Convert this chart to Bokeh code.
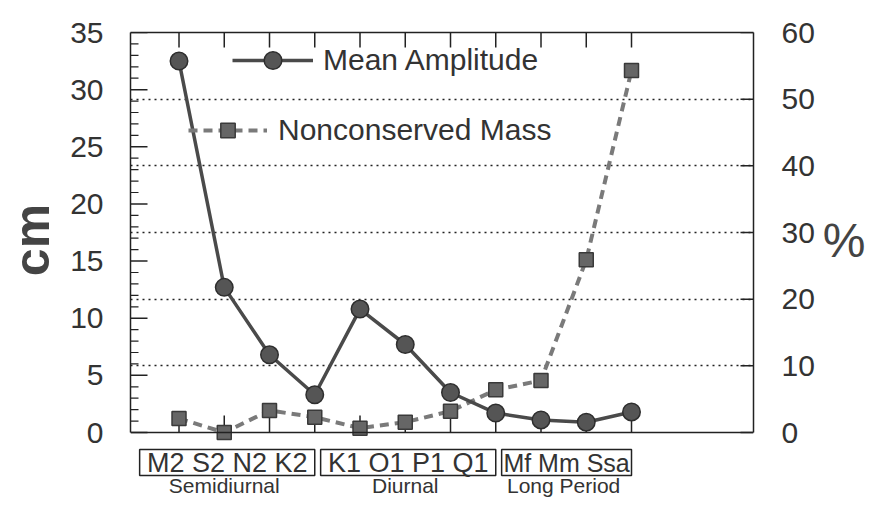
from bokeh.plotting import figure
from bokeh.layouts import column
from bokeh.models import (Range1d, LinearAxis, FixedTicker, Grid, Legend, LegendItem,
                          Span, ColumnDataSource)
from bokeh.core.properties import value
from bokeh.embed import file_html
from bokeh.resources import INLINE

# ---------------- data ----------------
categories = ["M2", "S2", "N2", "K2", "K1", "O1", "P1", "Q1", "Mf", "Mm", "Ssa"]
mean_amplitude_cm = [32.5, 12.7, 6.8, 3.3, 10.8, 7.7, 3.5, 1.7, 1.1, 0.9, 1.8]
nonconserved_mass_pct = [2.1, 0.0, 3.3, 2.3, 0.65, 1.55, 3.2, 6.4, 7.8, 25.9, 54.3]
group_names = ["Semidiurnal", "Diurnal", "Long Period"]
group_sizes = [4, 4, 3]
left_ticks = [0, 5, 10, 15, 20, 25, 30, 35]
left_minor_ticks = list(range(0, 36))
right_ticks = [0, 10, 20, 30, 40, 50, 60]
grid_ticks = [10, 20, 30, 40, 50]

# ---------------- style ----------------
FONT = "Liberation Sans"
INK = "#333333"
FRAME = "#222222"

X0, X1 = -1.072, 12.696
CM_TOP, PCT_TOP = 35, 60
BOX_H = 400                       # pixel height of the 0..35 cm box
BELOW = 15                        # pixels of frame kept below the zero line
PX_X = 623 / (X1 - X0)
PX_CM = BOX_H / CM_TOP
PX_PCT = BOX_H / PCT_TOP

x = list(range(len(categories)))
src = ColumnDataSource(dict(x=x, amp=mean_amplitude_cm, mass=nonconserved_mass_pct, cat=categories))
xr = Range1d(X0, X1)

# ================= main chart =================
p = figure(width=870, height=32 + BOX_H + BELOW, output_backend="svg", toolbar_location=None,
           x_range=xr, y_range=Range1d(-BELOW / PX_CM, CM_TOP),
           x_axis_location=None, y_axis_location=None,
           min_border_left=130, min_border_right=117, min_border_top=32, min_border_bottom=0,
           background_fill_color="white", border_fill_color="white")
p.extra_y_ranges = {"pct": Range1d(-BELOW / PX_PCT, PCT_TOP)}
p.outline_line_color = None
p.xgrid.visible = False
p.ygrid.visible = False

ya = LinearAxis(ticker=FixedTicker(ticks=left_ticks, minor_ticks=[]), bounds=(0, CM_TOP),
                major_tick_in=0, major_tick_out=0, minor_tick_in=0, minor_tick_out=0,
                axis_line_color=FRAME, axis_line_width=1.5,
                major_label_standoff=27, major_label_text_font=FONT,
                major_label_text_font_size="30px", major_label_text_color=INK,
                axis_label="cm", axis_label_standoff=7, axis_label_text_font=FONT,
                axis_label_text_font_style="bold", axis_label_text_font_size="50px",
                axis_label_text_color="#444444")
p.add_layout(ya, "left")

ra = LinearAxis(y_range_name="pct", ticker=FixedTicker(ticks=right_ticks, minor_ticks=[]),
                bounds=(0, PCT_TOP), major_tick_in=0, major_tick_out=0, minor_tick_in=0,
                minor_tick_out=0, axis_line_color=FRAME, axis_line_width=1.5,
                major_label_standoff=28, major_label_text_font=FONT,
                major_label_text_font_size="30px", major_label_text_color=INK,
                axis_label="%", axis_label_orientation="horizontal", axis_label_standoff=5,
                axis_label_text_font=FONT, axis_label_text_font_style="normal",
                axis_label_text_font_size="48px", axis_label_text_color="#444444")
p.add_layout(ra, "right")

# top edge of the box
ta = LinearAxis(ticker=FixedTicker(ticks=[]), major_tick_in=0, major_tick_out=0,
                minor_tick_in=0, minor_tick_out=0, axis_line_color=FRAME, axis_line_width=1.5)
p.add_layout(ta, "above")
# bottom edge of the box (zero line)
p.add_layout(Span(location=0, dimension="width", line_color=FRAME, line_width=1.5))

g = Grid(dimension=1, ticker=FixedTicker(ticks=grid_ticks), y_range_name="pct",
         grid_line_color=FRAME, grid_line_dash="dotted", grid_line_width=1.5)
p.add_layout(g)

# inward tick marks on all four sides
mnr = [t for t in left_minor_ticks if t not in left_ticks]
p.segment(x0=[X0] * len(left_ticks), y0=left_ticks, x1=[X0 + 17 / PX_X] * len(left_ticks),
          y1=left_ticks, line_color=FRAME, line_width=1.5)
p.segment(x0=[X0] * len(mnr), y0=mnr, x1=[X0 + 8 / PX_X] * len(mnr), y1=mnr,
          line_color=FRAME, line_width=1.2)
p.segment(x0=[X1 - 13 / PX_X] * len(right_ticks), y0=right_ticks, x1=[X1] * len(right_ticks),
          y1=right_ticks, y_range_name="pct", line_color=FRAME, line_width=1.5)
p.segment(x0=x, y0=[CM_TOP] * len(x), x1=x, y1=[CM_TOP - 15 / PX_CM] * len(x),
          line_color=FRAME, line_width=1.5)
p.segment(x0=x, y0=[0] * len(x), x1=x, y1=[17 / PX_CM] * len(x),
          line_color=FRAME, line_width=1.5)

# series
mass_line = p.line("x", "mass", source=src, y_range_name="pct", line_color="#7a7a7a",
                   line_width=4, line_dash="9 6")
mass_pts = p.scatter("x", "mass", source=src, y_range_name="pct", marker="square", size=14,
                     fill_color="#666666", line_color="#3a3a3a", line_width=1.5)
amp_line = p.line("x", "amp", source=src, line_color="#4a4a4a", line_width=3.5)
amp_pts = p.scatter("x", "amp", source=src, marker="circle", size=17.5,
                    fill_color="#555555", line_color="#2e2e2e", line_width=1.5)

common = dict(padding=0, margin=0, spacing=0, border_line_color=None, background_fill_alpha=0,
              label_text_font=FONT, label_text_font_size="30px", label_text_color=INK)
leg1 = Legend(items=[LegendItem(label="Mean Amplitude", renderers=[amp_line, amp_pts])],
              location=(102, 365), glyph_width=81, glyph_height=44, label_standoff=10, **common)
leg2 = Legend(items=[LegendItem(label="Nonconserved Mass", renderers=[mass_line, mass_pts])],
              location=(58, 299), glyph_width=79, glyph_height=36, label_standoff=11, **common)
p.add_layout(leg1)
p.add_layout(leg2)

# ================= category boxes strip =================
# y range of the strip runs downward in pixels (447 at top, 497 at bottom)
q = figure(width=870, height=50, output_backend="svg", toolbar_location=None,
           x_range=xr, y_range=Range1d(497, 447),
           x_axis_location=None, y_axis_location=None,
           min_border_left=130, min_border_right=117, min_border_top=0, min_border_bottom=0,
           background_fill_color="white", border_fill_color="white")
q.outline_line_color = None
q.xgrid.visible = False
q.ygrid.visible = False

box_font_sizes = ["27px", "27px", "25px"]
lefts, rights, centers, texts, name_x = [], [], [], [], []
start = 0
for size in group_sizes:
    idx = x[start:start + size]
    lefts.append(idx[0] - 0.87)
    rights.append(idx[-1])
    centers.append((idx[0] - 0.87 + idx[-1]) / 2)
    texts.append(" ".join(categories[start:start + size]))
    name_x.append(sum(idx) / len(idx) - 0.5)
    start += size

q.quad(left=lefts, right=rights, top=[449] * 3, bottom=[475] * 3,
       fill_color=None, line_color=FRAME, line_width=1.5)
for cx, t, fs in zip(centers, texts, box_font_sizes):
    q.text(x=[cx], y=[462], text=[t], text_align="center", text_baseline="middle",
           text_font=value(FONT), text_font_size=fs, text_color=INK)
q.text(x=name_x, y=[484.5] * 3, text=group_names, text_align="center",
       text_baseline="middle", text_font=value(FONT), text_font_size="21px",
       text_color=INK)

open("out.html", "w").write(file_html(column(p, q, spacing=0), INLINE))
